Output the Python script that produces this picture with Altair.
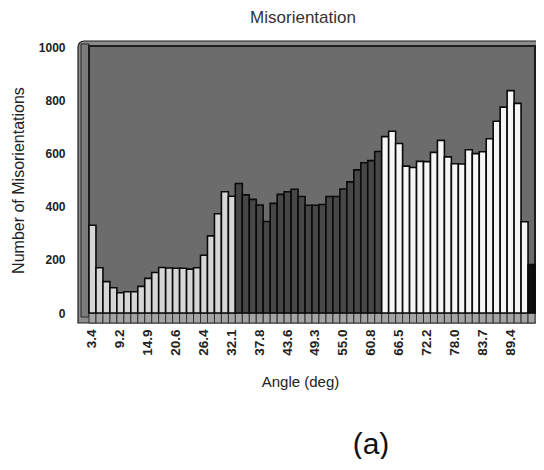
import altair as alt
import pandas as pd

counts = [330, 170, 118, 95, 76, 80, 80, 100, 130, 152,
          171, 169, 168, 168, 165, 170, 217, 290, 373, 456,
          439, 487, 444, 427, 406, 344, 412, 446, 456, 465,
          438, 405, 405, 408, 438, 438, 466, 493, 538, 565,
          573, 607, 663, 683, 637, 552, 547, 570, 569, 604,
          649, 587, 561, 560, 614, 599, 606, 655, 721, 774,
          836, 788, 343, 182]
groups = (["light"] * 21) + (["dark"] * 21) + (["white"] * 21) + ["black"]
tick_labels = ["3.4", "9.2", "14.9", "20.6", "26.4", "32.1", "37.8", "43.6",
               "49.3", "55.0", "60.8", "66.5", "72.2", "78.0", "83.7", "89.4"]
y_ticks = [0, 200, 400, 600, 800, 1000]

df = pd.DataFrame({"bin": list(range(len(counts))), "count": counts, "group": groups})
one = pd.DataFrame({"k": [0]})

W, H = 446, 266
FONT = "Liberation Sans"

label_expr = "[" + ",".join("'" + t + "'" for t in tick_labels) + "][datum.value/4]"

xenc = alt.X("bin:O",
             scale=alt.Scale(paddingInner=0, paddingOuter=0),
             axis=alt.Axis(values=list(range(0, 64, 4)), labelExpr=label_expr,
                           labelAngle=270, labelAlign="right", labelBaseline="middle",
                           labelPadding=16, tickSize=0, domain=False,
                           labelFont=FONT, labelFontWeight="bold", labelFontSize=13.5,
                           labelColor="#222",
                           title="Angle (deg)", titleFont=FONT, titleFontSize=15,
                           titleFontWeight="normal", titleColor="#222",
                           titleX=211, titleY=68, titleAnchor="middle",
                           titleAlign="center", titleBaseline="middle"))

yscale = alt.Scale(domain=[0, 1000], nice=False)

base = alt.Chart(df)
single = alt.Chart(one)

# decorative frame: outer box, left wall, back wall
outer = single.mark_rect(fill="#8c8c8c", stroke="#1e1e1e", strokeWidth=1.2, cornerRadiusTopLeft=6).encode(
    x=alt.value(-11), x2=alt.value(W + 2), y=alt.value(-6), y2=alt.value(H + 10))
leftwall = single.mark_rect(fill="#7c7c7c", stroke="#2a2a2a", strokeWidth=1).encode(
    x=alt.value(-8), x2=alt.value(0), y=alt.value(-3), y2=alt.value(H + 4))
backwall = single.mark_rect(fill="#6c6c6c", stroke="#1e1e1e", strokeWidth=2).encode(
    x=alt.value(0), x2=alt.value(W), y=alt.value(-1), y2=alt.value(H))
floor = base.mark_rect(fill="#a4a4a4", stroke="#333333", strokeWidth=1).encode(
    x=xenc, y=alt.value(H), y2=alt.value(H + 10))

bars = base.mark_bar(stroke="#0a0a0a", strokeWidth=1.6).encode(
    x=xenc,
    y=alt.Y("count:Q", scale=yscale,
            axis=alt.Axis(values=y_ticks, format="d", tickSize=8, tickColor="#303030", tickWidth=1.5,
                          domain=False, grid=False, labelPadding=16,
                          labelFont=FONT, labelFontWeight="bold", labelFontSize=12,
                          labelColor="#222",
                          title="Number of Misorientations", titleFont=FONT,
                          titleFontSize=16, titleFontWeight="normal", titleColor="#222",
                          titleX=-71, titleY=133, titleAngle=270,
                          titleAlign="center", titleBaseline="middle")),
    fill=alt.Fill("group:N",
                  scale=alt.Scale(domain=["light", "dark", "white", "black"],
                                  range=["#d6d6d6", "#474747", "#f6f6f6", "#0e0e0e"]),
                  legend=None),
)

title = single.mark_text(font=FONT, fontSize=17, color="#333333", align="center", baseline="middle").encode(
    x=alt.value(214), y=alt.value(-29), text=alt.value("Misorientation"))
caption = single.mark_text(font=FONT, fontSize=30, color="#111111", align="center", baseline="middle").encode(
    x=alt.value(282), y=alt.value(398), text=alt.value("(a)"))

chart = alt.layer(outer, leftwall, backwall, floor, bars, title, caption).properties(
    width=W, height=H,
    autosize=alt.AutoSizeParams(type="none"),
    padding={"left": 81, "top": 39, "right": 1, "bottom": 146},
    background="white",
).configure_view(stroke=None, clip=False)

chart.save("out.html", embed_options={"renderer": "svg", "actions": False})
